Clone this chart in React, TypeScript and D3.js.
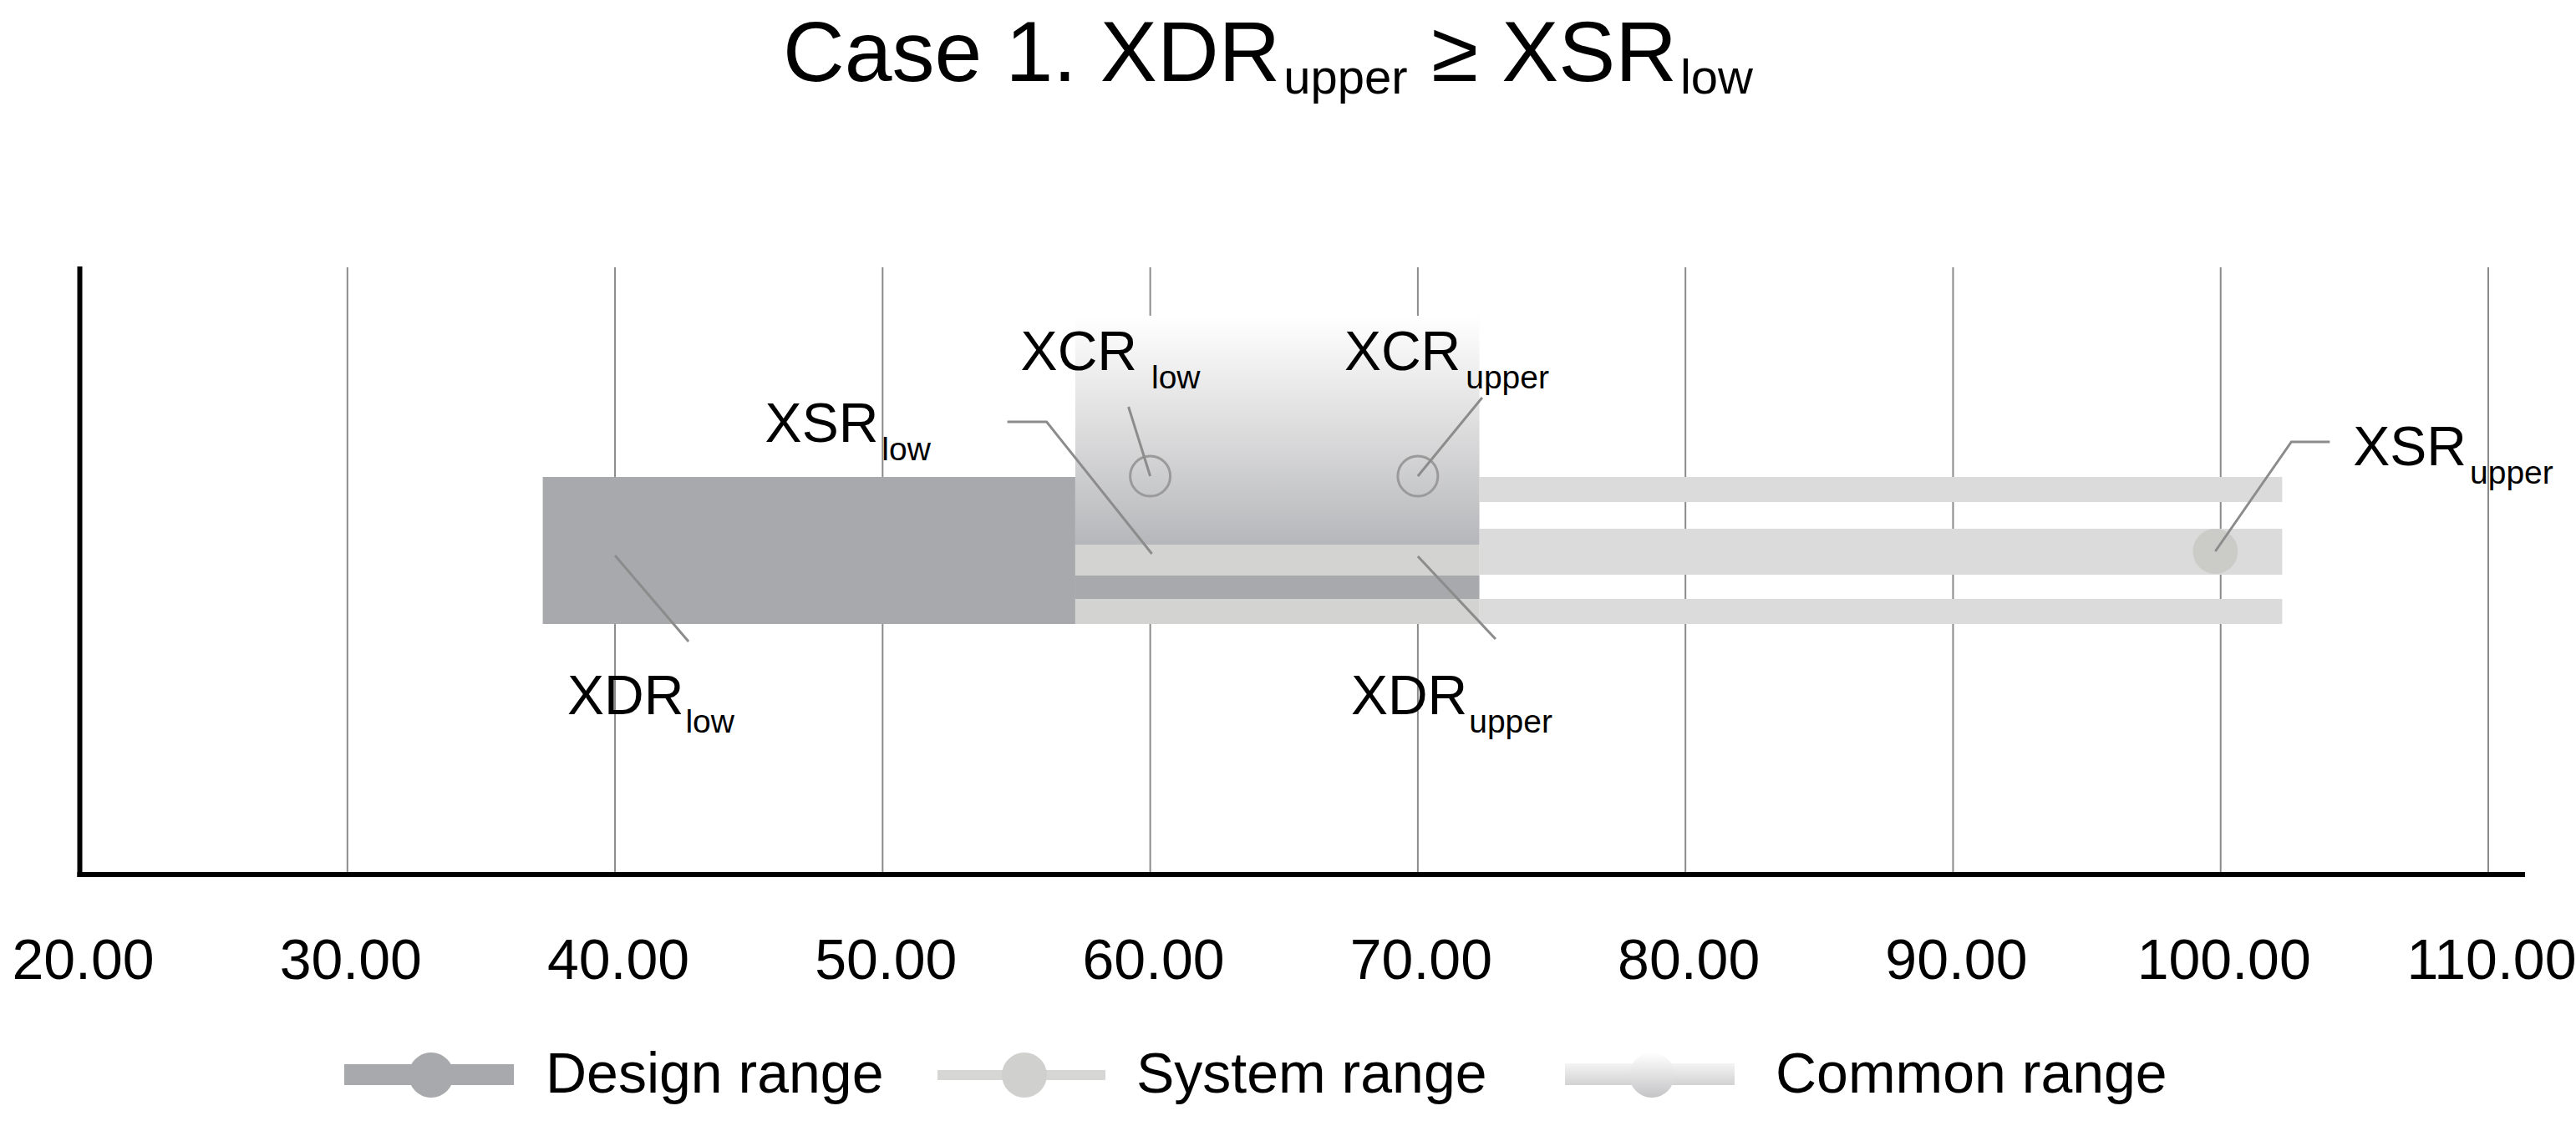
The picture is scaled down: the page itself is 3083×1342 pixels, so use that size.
import * as d3 from 'd3'

// axis
const xTicks = [20, 30, 40, 50, 60, 70, 80, 90, 100, 110]

// ranges (low, upper)
const designRange = [37.3, 72.3]
const systemRange = [57.2, 102.3]
const commonRange = [57.2, 72.3]

// annotated points
const pointBase = ['XDR', 'XSR', 'XCR', 'XCR', 'XDR', 'XSR']
const pointSub = ['low', 'low', 'low', 'upper', 'upper', 'upper']
const pointAt = [40, 60, 60, 70, 70, 99.8]

const legendNames = ['Design range', 'System range', 'Common range']

const W = 3083
const H = 1342
const FONT = '"Liberation Sans", Arial, sans-serif'

const DESIGN = '#a8a9ac'
const SYS_IN = '#d3d3d1'
const SYS_OUT = '#dbdbdb'
const LEADER = '#8c8c8c'

// vertical layout of the single row
const gridTop = 320
const axisY = 1047
const bandTop = 571
const bandBot = 747
const stripeTop = [571, 633, 717]
const stripeBot = [601, 688, 747]
const gradTop = 378
const gradBot = 652
const darkTop = 689
const darkBot = 717

// per-annotation layout: anchor y, leader offsets, label dx / baseline, sub dx / dy, marker kind
const annLayout = [
  { y: 665, leader: [[0, 0], [88, 103]], lx: -57, ly: 855, sdx: 2, sdy: 22, marker: '' },
  { y: 663, leader: [[2, 0], [-124, -158], [-171, -158]], lx: -461, ly: 529, sdx: 4, sdy: 22, marker: '' },
  { y: 570, leader: [[0, 0], [-26, -83]], lx: -155, ly: 443, sdx: 17, sdy: 22, marker: 'ring' },
  { y: 570, leader: [[0, 0], [77, -94]], lx: -88, ly: 443, sdx: 6, sdy: 22, marker: 'ring' },
  { y: 666, leader: [[0, 0], [93, 99]], lx: -80, ly: 855, sdx: 2, sdy: 22, marker: '' },
  { y: 660, leader: [[0, 0], [91, -131], [137, -131]], lx: 165, ly: 557, sdx: 4, sdy: 22, marker: 'dot' },
]

const legendX = [412, 1122, 1873]
const legendTextX = [653, 1360, 2125]

export default function App() {
  const x = d3.scaleLinear().domain([20, 110]).range([95.5, 2978])
  const fmt = d3.format('.2f')
  const line = d3.line()

  return (
    <div style={{ position: 'absolute', left: 0, top: 0 }}>
      <svg width={W} height={H} style={{ display: 'block', background: '#fff' }} fontFamily={FONT}>
        <defs>
          <linearGradient id="common" x1="0" y1="0" x2="0" y2="1">
            <stop offset="0" stopColor="#ffffff" />
            <stop offset="0.5" stopColor="#dcdcdd" />
            <stop offset="1" stopColor="#b6b7ba" />
          </linearGradient>
          <linearGradient id="commonLeg" x1="0" y1="0" x2="0" y2="1">
            <stop offset="0" stopColor="#f4f4f4" />
            <stop offset="1" stopColor="#d2d2d3" />
          </linearGradient>
          <linearGradient id="commonDot" x1="0" y1="0" x2="0" y2="1">
            <stop offset="0" stopColor="#ffffff" />
            <stop offset="1" stopColor="#c4c4c6" />
          </linearGradient>
        </defs>

        {/* title */}
        <text x={937} y={97} fontSize={102} fill="#000">
          <tspan>Case 1. XDR</tspan>
          <tspan fontSize={58} dy={15} dx={4}>upper</tspan>
          <tspan dy={-15}> ≥ XSR</tspan>
          <tspan fontSize={58} dy={15} dx={4}>low</tspan>
        </text>

        {/* grid */}
        {xTicks.slice(1).map(t => (
          <line key={t} x1={x(t)} x2={x(t)} y1={gridTop} y2={axisY} stroke="#8a8a8a" strokeWidth={2} />
        ))}

        {/* design range, full height left of the common range */}
        <rect x={x(designRange[0])} y={bandTop} width={x(commonRange[0]) - x(designRange[0])}
          height={bandBot - bandTop} fill={DESIGN} />

        {/* system range stripes outside the common range */}
        {stripeTop.map((t, i) => (
          <rect key={i} x={x(commonRange[1])} y={t} width={x(systemRange[1]) - x(commonRange[1])}
            height={stripeBot[i] - t} fill={SYS_OUT} />
        ))}

        {/* common range */}
        <rect x={x(commonRange[0])} y={gradTop} width={x(commonRange[1]) - x(commonRange[0])}
          height={gradBot - gradTop} fill="url(#common)" />
        <rect x={x(systemRange[0])} y={gradBot} width={x(designRange[1]) - x(systemRange[0])}
          height={darkTop - gradBot} fill={SYS_IN} />
        <rect x={x(systemRange[0])} y={darkTop} width={x(designRange[1]) - x(systemRange[0])}
          height={darkBot - darkTop} fill={DESIGN} />
        <rect x={x(systemRange[0])} y={darkBot} width={x(designRange[1]) - x(systemRange[0])}
          height={bandBot - darkBot} fill={SYS_IN} />

        {/* axes */}
        <line x1={x(20)} x2={x(20)} y1={gridTop - 1} y2={axisY + 3} stroke="#000" strokeWidth={6} />
        <line x1={x(20) - 3} x2={3022} y1={axisY} y2={axisY} stroke="#000" strokeWidth={6} />
        {xTicks.map(t => (
          <text key={t} x={x(t) + 4} y={1172} fontSize={68} textAnchor="middle" fill="#000">{fmt(t)}</text>
        ))}

        {/* annotations */}
        {pointAt.map((v, i) => {
          const a = annLayout[i]
          const cx = x(v)
          const pts = a.leader.map(([dx, dy]) => [cx + dx, a.y + dy] as [number, number])
          return (
            <g key={i}>
              {a.marker === 'ring' && (
                <circle cx={cx} cy={a.y} r={24} fill="none" stroke="#9a9a9a" strokeWidth={3} />
              )}
              {a.marker === 'dot' && <circle cx={cx} cy={a.y} r={27} fill="#cbcbc7" />}
              <path d={line(pts) || ''} fill="none" stroke={LEADER} strokeWidth={3} />
              <text x={cx + a.lx} y={a.ly} fontSize={66} fill="#000">
                <tspan>{pointBase[i]}</tspan>
                <tspan fontSize={39} dx={a.sdx} dy={a.sdy}>{pointSub[i]}</tspan>
              </text>
            </g>
          )
        })}

        {/* legend */}
        {legendNames.map((n, i) => {
          const sx = legendX[i]
          const cx = sx + 104
          return (
            <g key={n}>
              {i === 0 && <rect x={sx} y={1274} width={203} height={25} fill={DESIGN} />}
              {i === 1 && <rect x={sx} y={1281} width={201} height={12} fill="#d6d6d4" />}
              {i === 2 && <rect x={sx} y={1273} width={203} height={26} fill="url(#commonLeg)" />}
              <circle cx={cx} cy={1287} r={27}
                fill={i === 0 ? DESIGN : i === 1 ? '#d0d0ce' : 'url(#commonDot)'} />
              <text x={legendTextX[i]} y={1308} fontSize={68} fill="#000">{n}</text>
            </g>
          )
        })}
      </svg>
    </div>
  )
}
